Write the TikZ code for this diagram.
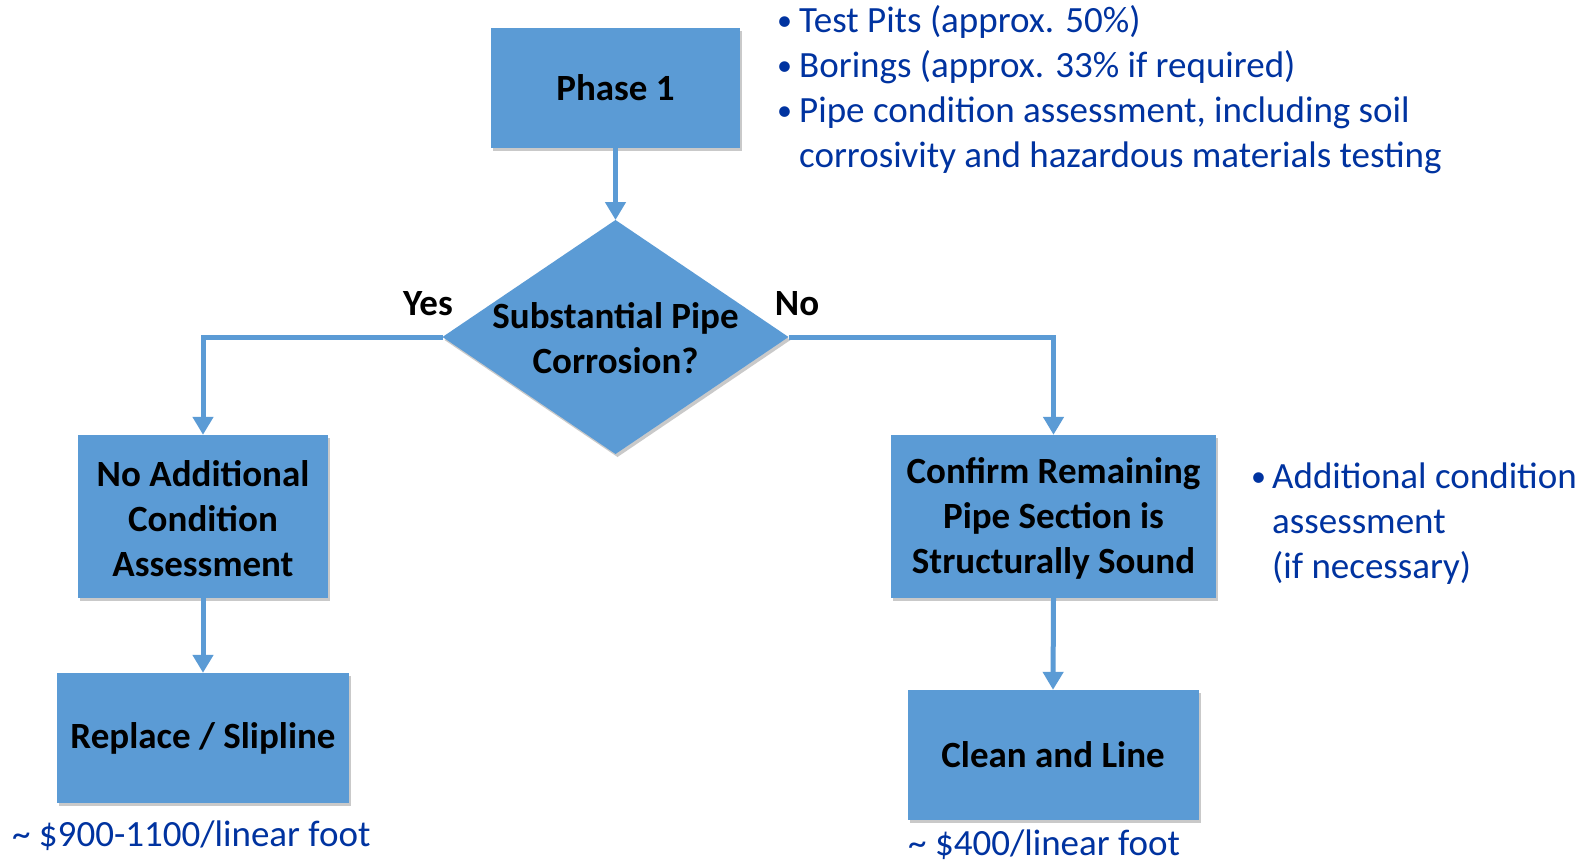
\documentclass[tikz,border=0pt]{standalone}
\usepackage{fontspec}
\setmainfont{Carlito}
\usetikzlibrary{arrows.meta,shadows}
\definecolor{boxblue}{HTML}{5B9BD5}
\definecolor{txtblue}{HTML}{0033A0}
\newcommand{\pushdown}{\rule{0pt}{30pt}}
\tikzset{
  shade3/.style={drop shadow={shadow xshift=2pt, shadow yshift=-3pt, opacity=0.35, fill=black!60}},
  flowbox/.style={rectangle, fill=boxblue, inner sep=0pt, align=center,
    font=\fontsize{37}{45}\selectfont\bfseries, text=black, shade3},
  decidetext/.style={inner sep=0pt, align=center,
    font=\fontsize{37}{45}\selectfont\bfseries, text=black},
  conn/.style={draw=boxblue, line width=5pt},
  arr/.style={conn, -{Triangle[width=20pt,length=18pt]}},
  note/.style={anchor=base west, inner sep=0pt, text=txtblue, font=\fontsize{37}{45}\selectfont},
  bul/.style={anchor=base west, inner sep=0pt, text=txtblue, font=\fontsize{30}{45}\selectfont},
  lbl/.style={anchor=base, inner sep=0pt, text=black, font=\fontsize{37}{45}\selectfont\bfseries},
}
\begin{document}
\begin{tikzpicture}[x=1pt,y=-1pt]
\useasboundingbox[fill=white] (0,0) rectangle (1595,862);

\node[flowbox, minimum width=249pt, minimum height=120pt] (p1) at (615.5,88) {Phase 1};

% decision diamond
\coordinate (dtop) at (615.5,220);
\coordinate (dleft) at (442.5,337);
\coordinate (dright) at (788.5,337);
\coordinate (dbot) at (615.5,454);
\fill[boxblue, shade3] (dtop) -- (dright) -- (dbot) -- (dleft) -- cycle;
\node[decidetext] (dia) at (615.5,338) {Substantial Pipe\\Corrosion?};

\node[flowbox, minimum width=250pt, minimum height=163pt] (nac) at (203,516.5) {\pushdown No Additional\\Condition\\Assessment};
\node[flowbox, minimum width=292pt, minimum height=130pt] (rep) at (203,738) {Replace / Slipline};
\node[flowbox, minimum width=325pt, minimum height=163pt] (crs) at (1053.5,516.5) {\pushdown Confirm Remaining\\Pipe Section is\\Structurally Sound};
\node[flowbox, minimum width=291pt, minimum height=130pt] (cal) at (1053,755) {Clean and Line};

\draw[arr] (p1.south) -- (dtop);
\draw[arr] (dleft) -| (nac.north);
\draw[arr] (dright) -| (crs.north);
\draw[arr] (nac.south) -- (rep.north);
\draw[arr] (crs.south) -- (cal.north);

\node[lbl] (yes) at (428,315) {Yes};
\node[lbl] (no) at (797,315) {No};

\node[bul] (b1) at (777,30) {•};
\node[note] (t1) at (799,32) {Test Pits (approx. 50\%)};
\node[bul] (b2) at (777,75) {•};
\node[note] (t2) at (799,77) {Borings (approx. 33\% if required)};
\node[bul] (b3) at (777,120) {•};
\node[note] (t3) at (799,122) {Pipe condition assessment, including soil};
\node[note] (t4) at (799,167) {corrosivity and hazardous materials testing};

\node[bul] (b5) at (1251,486) {•};
\node[note] (t5) at (1272,488) {Additional condition};
\node[note] (t6) at (1272,533) {assessment};
\node[note] (t7) at (1272,578) {(if necessary)};

\node[note] (c1) at (12,846) {\textasciitilde{} \$900-1100/linear foot};
\node[note] (c2) at (908,855) {\textasciitilde{} \$400/linear foot};
\end{tikzpicture}
\end{document}
